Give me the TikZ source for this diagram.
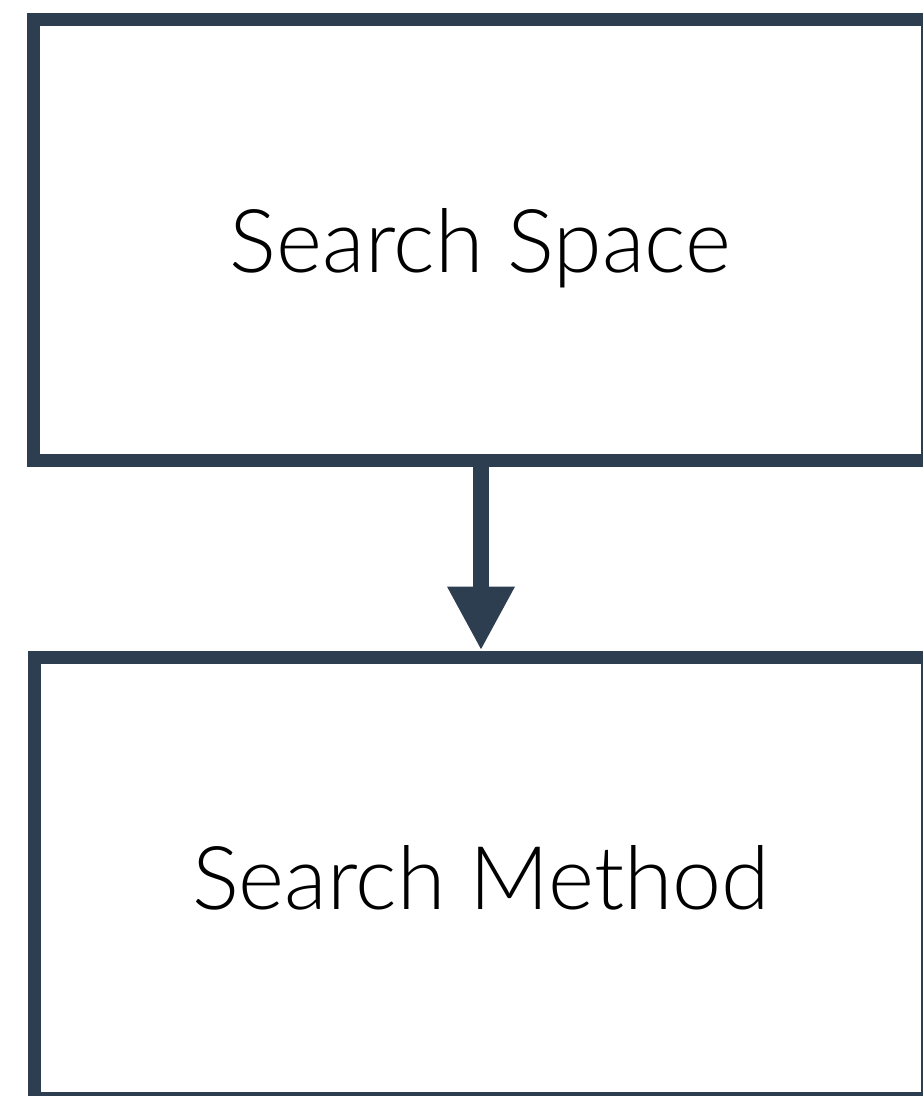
\documentclass[tikz,border=0pt]{standalone}
\usepackage{fontspec}
\setmainfont{Lato Light}
\usetikzlibrary{arrows.meta}
\definecolor{slate}{HTML}{2C3E50}
% box label: baseline placed a fixed distance below the box centre
\newcommand{\stagetext}[1]{\raisebox{-24.3pt}[0pt][0pt]{#1}}
\tikzset{
  stage/.style={draw=slate, line width=9.75pt, inner sep=0pt, anchor=center,
    font=\fontsize{66}{78}\selectfont, text=black},
  flow/.style={draw=slate, line width=12pt,
    -{Triangle[width=47.25pt, length=48pt, fill=slate]}}
}
\begin{document}
\begin{tikzpicture}[x=0.75pt, y=-0.75pt]
  \useasboundingbox (0,0) rectangle (923,1096);
  \clip (0,0) rectangle (923,1096);
  \node[stage, minimum width=670.5pt, minimum height=330.4pt] (space) at (480.5,239.75) {\stagetext{Search Space}};
  \node[stage, minimum width=669.75pt, minimum height=330.75pt] (method) at (481,877.5) {\stagetext{Search Method}};
  \draw[flow] (space.south -| 481,0) -- (method.north -| 481,0);
\end{tikzpicture}
\end{document}
